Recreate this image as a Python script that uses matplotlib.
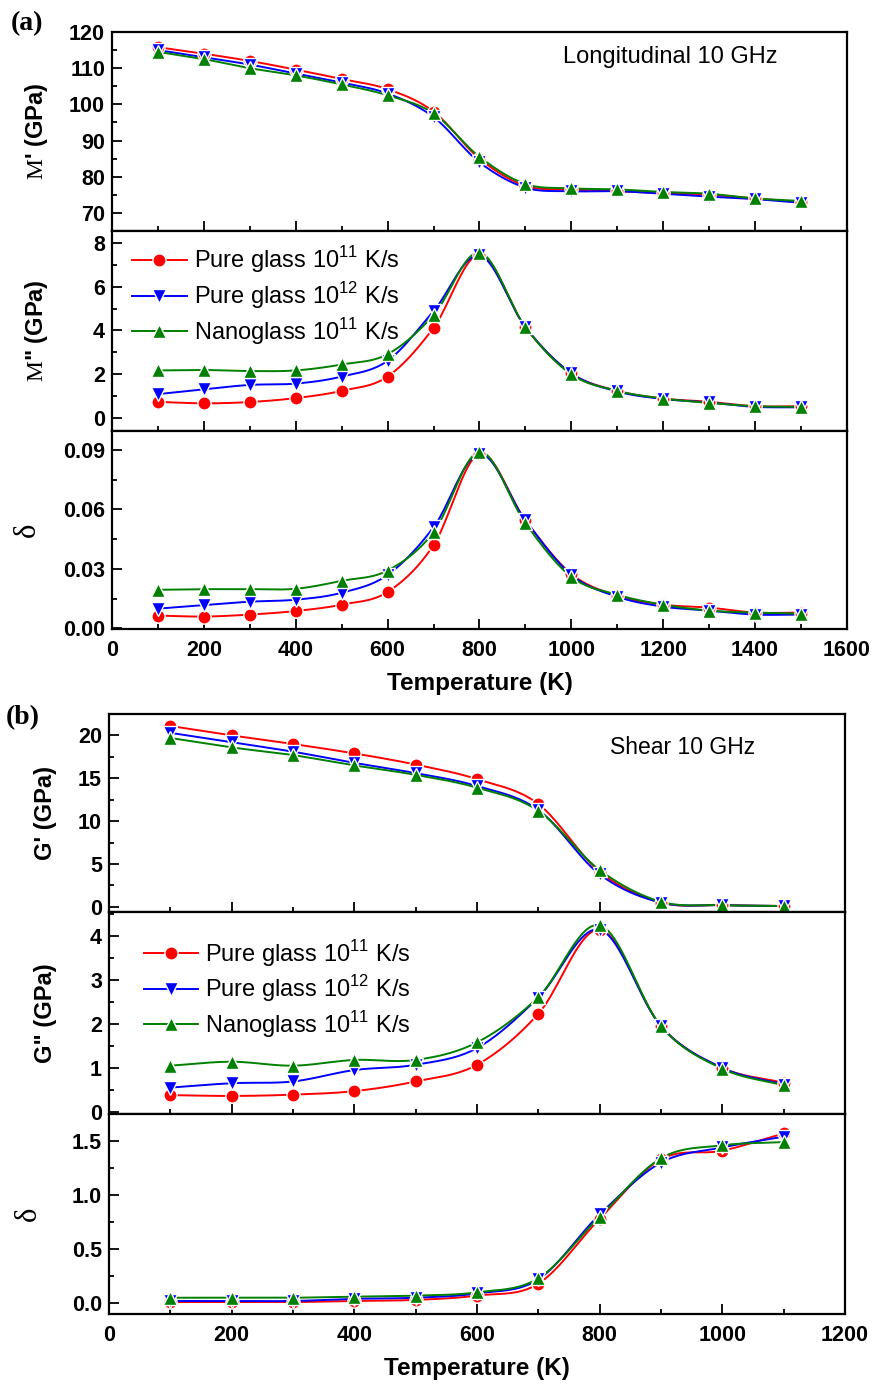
import numpy as np
import matplotlib
matplotlib.use("Agg")
import matplotlib.pyplot as plt
from matplotlib.ticker import MultipleLocator

plt.rcParams['font.family'] = ['Liberation Sans', 'DejaVu Sans']
plt.rcParams['mathtext.fontset'] = 'custom'
plt.rcParams['mathtext.rm'] = 'Liberation Serif'
plt.rcParams['mathtext.sf'] = 'Liberation Sans'

# temperatures (K)
temp_a = [100, 200, 300, 400, 500, 600, 700, 800, 900, 1000, 1100, 1200, 1300, 1400, 1500]
temp_b = [100, 200, 300, 400, 500, 600, 700, 800, 900, 1000, 1100]

series_names = [r'Pure glass 10$^{\mathsf{11}}$ K/s',
                r'Pure glass 10$^{\mathsf{12}}$ K/s',
                r'Nanoglass 10$^{\mathsf{11}}$ K/s']

# (a) longitudinal 10 GHz
m1_red = [115.8, 114.0, 112.0, 109.6, 107.0, 104.2, 98.0, 85.0, 77.5, 76.5, 76.0, 75.5, 75.0, 74.0, 73.0]
m1_blue = [115.0, 113.0, 111.0, 108.5, 106.0, 103.0, 96.5, 84.0, 77.0, 76.0, 76.0, 75.3, 74.5, 73.8, 72.8]
m1_green = [114.5, 112.5, 110.0, 108.0, 105.5, 102.5, 97.5, 85.5, 78.0, 76.8, 76.5, 75.8, 75.3, 74.0, 73.3]

m2_red = [0.75, 0.68, 0.74, 0.92, 1.25, 1.90, 4.12, 7.45, 4.15, 2.05, 1.25, 0.90, 0.75, 0.55, 0.55]
m2_blue = [1.10, 1.32, 1.52, 1.58, 1.90, 2.62, 4.88, 7.42, 4.15, 2.05, 1.22, 0.88, 0.72, 0.52, 0.50]
m2_green = [2.18, 2.20, 2.15, 2.18, 2.45, 2.92, 4.70, 7.55, 4.15, 2.00, 1.25, 0.90, 0.70, 0.55, 0.52]

d_a_red = [0.0065, 0.0060, 0.0070, 0.0088, 0.0120, 0.0184, 0.0420, 0.0880, 0.0545, 0.0275, 0.0165, 0.0120, 0.0105, 0.0080, 0.0080]
d_a_blue = [0.0100, 0.0118, 0.0135, 0.0145, 0.0180, 0.0270, 0.0510, 0.0880, 0.0545, 0.0270, 0.0160, 0.0110, 0.0090, 0.0070, 0.0070]
d_a_green = [0.0195, 0.0198, 0.0198, 0.0200, 0.0240, 0.0292, 0.0485, 0.0890, 0.0530, 0.0260, 0.0170, 0.0120, 0.0090, 0.0080, 0.0075]

# (b) shear 10 GHz
g1_red = [21.1, 20.0, 19.0, 17.9, 16.6, 14.9, 12.0, 4.1, 0.5, 0.2, 0.1]
g1_blue = [20.3, 19.2, 18.1, 16.8, 15.6, 14.1, 11.3, 3.8, 0.5, 0.2, 0.1]
g1_green = [19.7, 18.6, 17.7, 16.5, 15.4, 13.9, 11.2, 4.3, 0.6, 0.2, 0.1]

g2_red = [0.38, 0.36, 0.39, 0.47, 0.69, 1.07, 2.23, 4.15, 1.95, 1.00, 0.66]
g2_blue = [0.55, 0.65, 0.69, 0.95, 1.07, 1.45, 2.60, 4.15, 1.95, 1.00, 0.62]
g2_green = [1.05, 1.14, 1.05, 1.18, 1.18, 1.58, 2.61, 4.25, 1.95, 0.98, 0.60]

d_b_red = [0.01, 0.01, 0.01, 0.02, 0.03, 0.07, 0.18, 0.78, 1.33, 1.41, 1.57]
d_b_blue = [0.02, 0.02, 0.02, 0.04, 0.05, 0.09, 0.22, 0.82, 1.30, 1.44, 1.54]
d_b_green = [0.05, 0.05, 0.05, 0.06, 0.07, 0.10, 0.23, 0.80, 1.34, 1.46, 1.49]

colors = ['red', 'blue', 'green']
markers = ['o', 'v', '^']


def smooth(x, y, n=20):
    # catmull-rom curve through the points, only for drawing the line
    x = np.asarray(x, float)
    y = np.asarray(y, float)
    xs, ys = [], []
    for i in range(len(x) - 1):
        p0 = y[i - 1] if i > 0 else 2 * y[i] - y[i + 1]
        p3 = y[i + 2] if i + 2 < len(y) else 2 * y[i + 1] - y[i]
        m1 = (y[i + 1] - p0) / 2
        m2 = (p3 - y[i]) / 2
        t = np.linspace(0, 1, n, endpoint=False)
        h00 = 2 * t**3 - 3 * t**2 + 1
        h10 = t**3 - 2 * t**2 + t
        h01 = -2 * t**3 + 3 * t**2
        h11 = t**3 - t**2
        xs.append(x[i] + t * (x[i + 1] - x[i]))
        ys.append(h00 * y[i] + h10 * m1 + h01 * y[i + 1] + h11 * m2)
    xs.append([x[-1]])
    ys.append([y[-1]])
    return np.concatenate(xs), np.concatenate(ys)


def panel(ax, x, ys, xmax, ylim, ymaj, ymin, bottom=False, fmt=None):
    for y, c, m in zip(ys, colors, markers):
        xs, yy = smooth(x, y)
        ax.plot(xs, yy, color=c, lw=1.4, zorder=2)
        ax.plot(x, y, ls='none', marker=m, color=c, ms=9.5, mec='white', mew=1.0, zorder=3)
    ax.set_xlim(0, xmax)
    ax.set_ylim(*ylim)
    ax.xaxis.set_major_locator(MultipleLocator(200))
    ax.xaxis.set_minor_locator(MultipleLocator(100))
    ax.yaxis.set_major_locator(MultipleLocator(ymaj))
    ax.yaxis.set_minor_locator(MultipleLocator(ymin))
    if fmt:
        ax.yaxis.set_major_formatter(matplotlib.ticker.FormatStrFormatter(fmt))
    ax.tick_params(which='both', direction='in', width=1.3, top=False, right=False)
    ax.tick_params(which='major', length=7)
    ax.tick_params(which='minor', length=3.5)
    for s in ax.spines.values():
        s.set_linewidth(1.6)
    ax.tick_params(axis='y', labelsize=15.5, pad=5)
    for lab in ax.get_yticklabels():
        lab.set_fontweight('bold')
    if bottom:
        ax.tick_params(axis='x', labelsize=15.5, pad=8)
        for lab in ax.get_xticklabels():
            lab.set_fontweight('bold')
        ax.set_xlabel('Temperature (K)', fontsize=17.5, fontweight='bold', labelpad=8)
    else:
        ax.tick_params(axis='x', labelbottom=False)


fig = plt.figure(figsize=(8.78, 13.85), dpi=100)

la, wa = 0.1276, 0.837
a1 = fig.add_axes([la, 0.8332, wa, 0.1437])
a2 = fig.add_axes([la, 0.6888, wa, 0.1444])
a3 = fig.add_axes([la, 0.5458, wa, 0.1430])
lb, wb = 0.1241, 0.8383
b1 = fig.add_axes([lb, 0.3415, wb, 0.1430])
b2 = fig.add_axes([lb, 0.1957, wb, 0.1458])
b3 = fig.add_axes([lb, 0.0513, wb, 0.1444])

panel(a1, temp_a, [m1_red, m1_blue, m1_green], 1600, (65, 120), 10, 5)
panel(a2, temp_a, [m2_red, m2_blue, m2_green], 1600, (-0.58, 8.53), 2, 1)
panel(a3, temp_a, [d_a_red, d_a_blue, d_a_green], 1600, (-0.0003, 0.0995), 0.03, 0.015,
      bottom=True, fmt='%.2f')

panel(b1, temp_b, [g1_red, g1_blue, g1_green], 1200, (-0.6, 22.5), 5, 2.5)
panel(b2, temp_b, [g2_red, g2_blue, g2_green], 1200, (-0.05, 4.55), 1, 0.5)
panel(b3, temp_b, [d_b_red, d_b_blue, d_b_green], 1200, (-0.1, 1.75), 0.5, 0.25,
      bottom=True, fmt='%.1f')

# y labels
a1.set_ylabel(r"$\mathrm{M}$' (GPa)", fontsize=17, fontweight='bold')
a2.set_ylabel(r'$\mathrm{M}$" (GPa)', fontsize=17, fontweight='bold')
a3.set_ylabel('δ', fontsize=22, family='Liberation Serif')
b1.set_ylabel("G' (GPa)", fontsize=17, fontweight='bold')
b2.set_ylabel('G" (GPa)', fontsize=17, fontweight='bold')
b3.set_ylabel('δ', fontsize=22, family='Liberation Serif')
for ax in (a1, a2):
    ax.yaxis.set_label_coords(-0.085, 0.5)
a3.yaxis.set_label_coords(-0.095, 0.5)
for ax in (b1, b2):
    ax.yaxis.set_label_coords(-0.07, 0.5)
b3.yaxis.set_label_coords(-0.09, 0.5)

# legends
handles = [plt.Line2D([], [], color=c, marker=m, ms=9.5, mec='white', mew=1.0, lw=1.4)
           for c, m in zip(colors, markers)]
for ax, anchor in ((a2, (0.005, 1.015)), (b2, (0.025, 0.955))):
    ax.legend(handles, series_names, loc='upper left', bbox_to_anchor=anchor, frameon=False,
              fontsize=17, handlelength=2.3, handletextpad=0.3, labelspacing=0.2, borderaxespad=0.3)

a1.text(0.76, 0.875, 'Longitudinal 10 GHz', transform=a1.transAxes, fontsize=17, ha='center', va='center')
b1.text(0.78, 0.83, 'Shear 10 GHz', transform=b1.transAxes, fontsize=16.5, ha='center', va='center')

fig.text(0.012, 0.983, '(a)', fontsize=20, fontweight='bold', family='Liberation Serif', va='center')
fig.text(0.006, 0.482, '(b)', fontsize=20, fontweight='bold', family='Liberation Serif', va='center')

fig.savefig('out.png', dpi=100)
